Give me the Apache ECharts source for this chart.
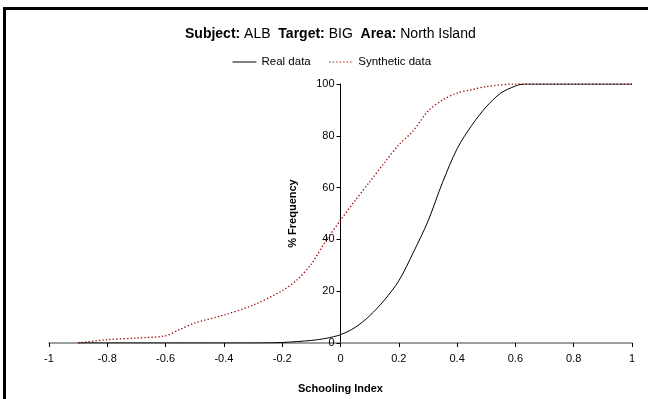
<!DOCTYPE html>
<html>
<head>
<meta charset="utf-8">
<script src="https://cdn.jsdelivr.net/npm/echarts@6/dist/echarts.min.js"></script>
<style>
  html, body { margin: 0; padding: 0; background: #fff; }
  #chart { width: 648px; height: 399px; }
</style>
</head>
<body>
<div id="chart"></div>
<script>
// values
const realX = [-0.9, -0.6, -0.3, -0.2, -0.1, -0.05, 0, 0.05, 0.1, 0.15, 0.2, 0.25, 0.3, 0.35, 0.4, 0.45, 0.5, 0.55, 0.6, 0.63, 0.8, 1]
const realY = [0, 0, 0, 0.2, 1.0, 1.8, 3.2, 6.0, 10.5, 16.5, 24, 35, 47, 62, 75, 84, 91.2, 96.5, 99.2, 100, 100, 100]

const synX = [-0.9, -0.8, -0.7, -0.6, -0.55, -0.5, -0.4, -0.3, -0.2, -0.15, -0.1, -0.05, 0, 0.05, 0.1, 0.15, 0.2, 0.25, 0.3, 0.35, 0.4, 0.45, 0.5, 0.6, 0.8, 1]
const synY = [0, 1.3, 1.9, 2.8, 5.3, 7.7, 10.8, 14.6, 20.2, 24.3, 30.5, 39.5, 47.4, 55, 62.2, 69.5, 76.5, 82, 89.5, 93.8, 96.5, 97.8, 99, 100, 100, 100]

const seriesNames = ['Real data', 'Synthetic data']

const FONT = '"Liberation Sans", Arial, sans-serif'

const GRID_LEFT = 49
const GRID_RIGHT = 16
const PLOT_W = 648 - GRID_LEFT - GRID_RIGHT

const chart = echarts.init(document.getElementById('chart'), null, { renderer: 'canvas' })

chart.setOption({
  animation: false,
  backgroundColor: '#fff',
  textStyle: { fontFamily: FONT },
  title: {
    text: '{b|Subject:} ALB  {b|Target:} BIG  {b|Area:} North Island',
    left: 180,
    top: 22,
    textStyle: {
      fontSize: 14,
      fontWeight: 'normal',
      color: '#000',
      fontFamily: FONT,
      rich: {
        b: { fontSize: 14, fontWeight: 'bold', color: '#000', fontFamily: FONT }
      }
    }
  },
  legend: {
    top: 51,
    left: 227,
    itemWidth: 24,
    itemHeight: 10,
    itemGap: 18,
    itemStyle: { opacity: 0 },
    lineStyle: { width: 1 },
    textStyle: { fontSize: 11.5, color: '#000', fontFamily: FONT },
    data: seriesNames
  },
  graphic: [
    { type: 'rect', shape: { x: 3, y: 7, width: 3, height: 400 }, style: { fill: '#000' }, silent: true },
    { type: 'rect', shape: { x: 3, y: 7, width: 650, height: 3 }, style: { fill: '#000' }, silent: true }
  ],
  grid: { left: GRID_LEFT, right: GRID_RIGHT, top: 84, bottom: 56, outerBoundsMode: 'none', containLabel: false },
  xAxis: {
    type: 'value',
    min: -1,
    max: 1,
    interval: 0.2,
    name: 'Schooling Index',
    nameLocation: 'middle',
    nameGap: 40,
    nameTextStyle: { fontSize: 11, fontWeight: 'bold', color: '#000', fontFamily: FONT },
    axisLine: { onZero: false, lineStyle: { color: '#808080', width: 1.5 } },
    axisTick: { show: true, length: 4, lineStyle: { color: '#000' } },
    axisLabel: { fontSize: 11, color: '#000', margin: 10, fontFamily: FONT,
      formatter: v => String(Math.round(v * 10) / 10) },
    splitLine: { show: false }
  },
  yAxis: {
    type: 'value',
    min: 0,
    max: 100,
    interval: 20,
    position: 'left',
    offset: -PLOT_W / 2,
    name: '% Frequency',
    nameLocation: 'middle',
    nameRotate: 90,
    nameGap: 42,
    nameTextStyle: { fontSize: 11, fontWeight: 'bold', color: '#000', fontFamily: FONT },
    axisLine: { show: true, onZero: false, lineStyle: { color: '#000', width: 1 } },
    axisTick: { show: true, length: 4, lineStyle: { color: '#000' } },
    axisLabel: { fontSize: 11, color: '#000', margin: 6, fontFamily: FONT },
    splitLine: { show: false }
  },
  series: [
    {
      name: seriesNames[0],
      type: 'line',
      data: realX.map((x, i) => [x, realY[i]]),
      showSymbol: false,
      symbol: 'none',
      smooth: 0.3,
      lineStyle: { color: '#000', width: 1, type: 'solid' },
      itemStyle: { color: '#000' },
      z: 3
    },
    {
      name: seriesNames[1],
      type: 'line',
      data: synX.map((x, i) => [x, synY[i]]),
      showSymbol: false,
      symbol: 'none',
      smooth: 0.3,
      lineStyle: { color: '#9b0000', width: 1.3, type: [1.3, 2.2] },
      itemStyle: { color: '#9b0000' },
      z: 2
    }
  ]
})
</script>
</body>
</html>
